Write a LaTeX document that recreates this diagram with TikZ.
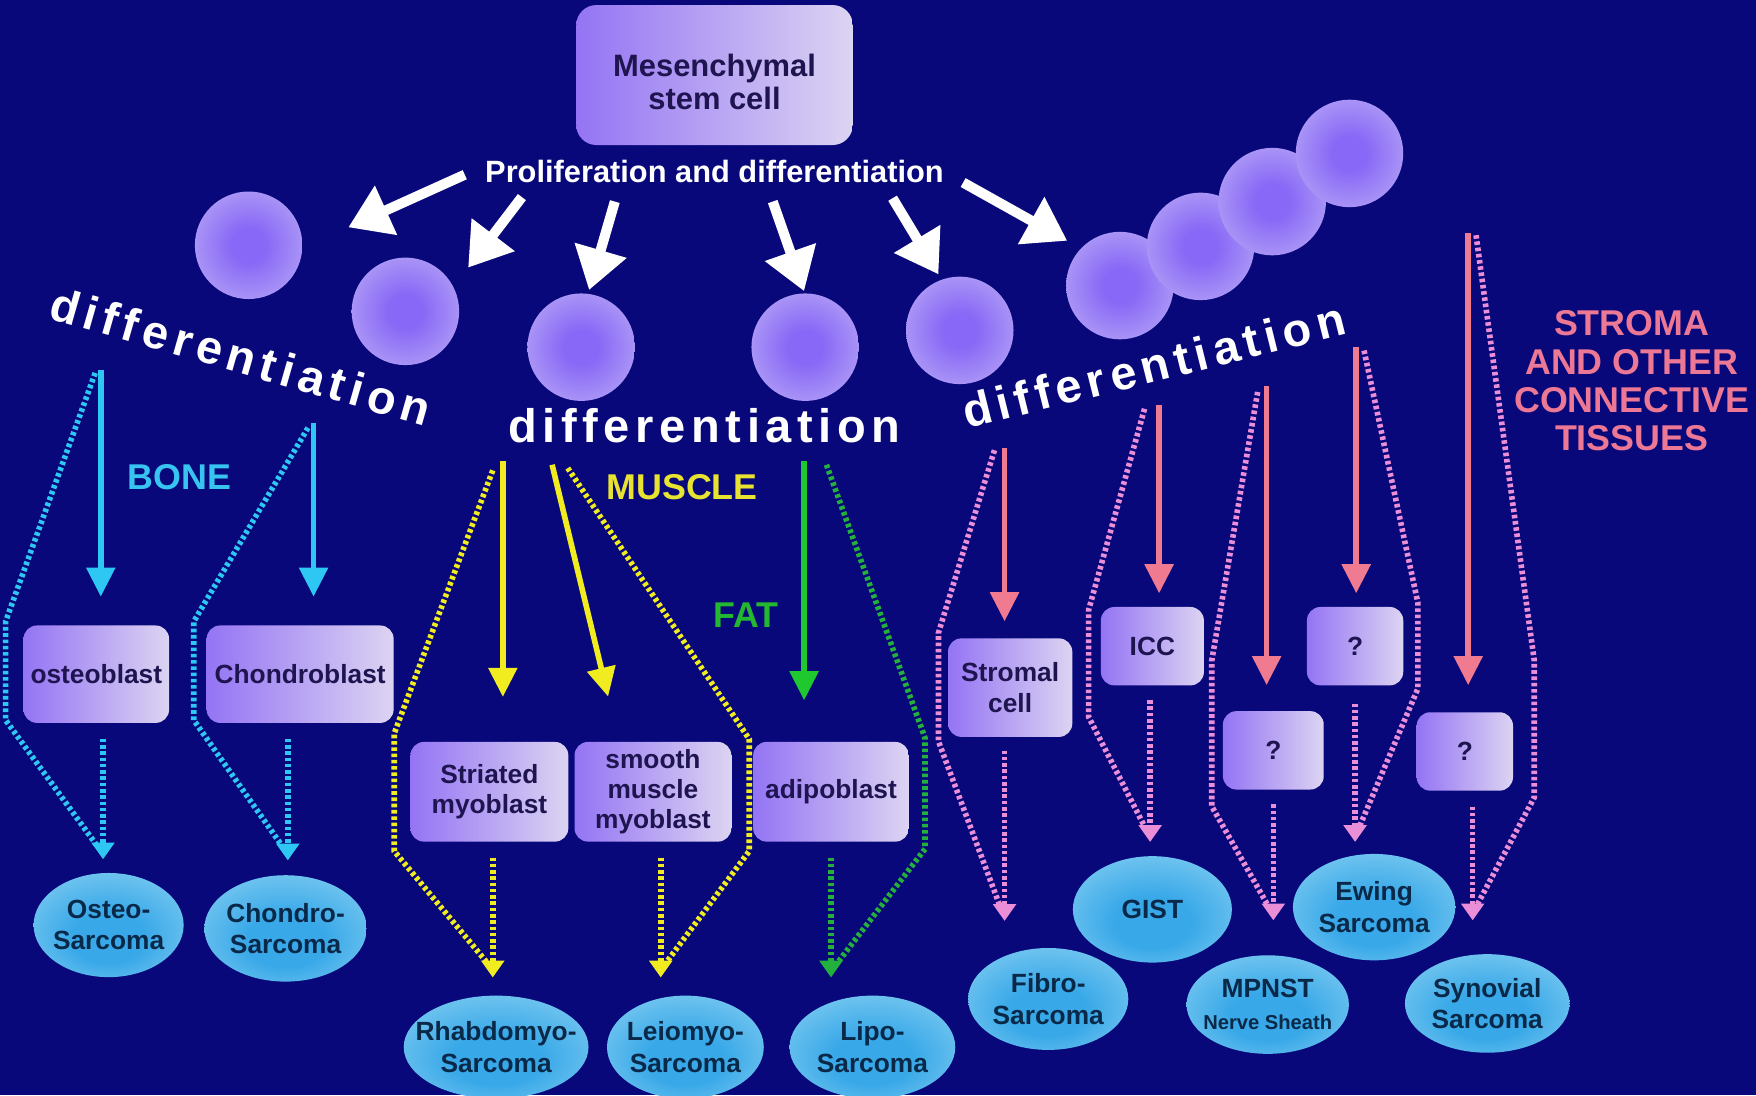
\documentclass[tikz,border=0pt]{standalone}
\usepackage{fontspec}
\setmainfont{Liberation Sans}
\newfontfamily\widefont{Liberation Sans}[LetterSpace=12]
\usetikzlibrary{arrows.meta,shapes.geometric,calc}
\definecolor{bg}{RGB}{8,8,122}
\definecolor{boxL}{RGB}{148,116,244}
\definecolor{boxR}{RGB}{220,212,242}
\definecolor{boxT}{RGB}{30,20,80}
\definecolor{cellin}{RGB}{136,104,246}
\definecolor{cellmid}{RGB}{178,160,246}
\definecolor{cellout}{RGB}{208,198,246}
\definecolor{cellrim}{RGB}{222,216,248}
\definecolor{ellin}{RGB}{56,168,232}
\definecolor{ellmid}{RGB}{120,200,240}
\definecolor{ellout}{RGB}{226,246,252}
\definecolor{ellT}{RGB}{10,40,72}
\definecolor{cyanc}{RGB}{46,198,242}
\definecolor{yel}{RGB}{240,236,32}
\definecolor{grn}{RGB}{32,200,48}
\definecolor{grnd}{RGB}{36,176,60}
\definecolor{pinks}{RGB}{240,122,144}
\definecolor{pinkd}{RGB}{234,142,216}
\definecolor{stromac}{RGB}{236,120,150}
\definecolor{musclec}{RGB}{232,226,48}
\definecolor{fatc}{RGB}{36,184,48}
\definecolor{bonec}{RGB}{56,196,240}
\pgfdeclareradialshading{cellshade}{\pgfpoint{0bp}{0bp}}{color(0bp)=(cellin); color(8bp)=(cellin); color(30bp)=(cellmid); color(42bp)=(cellout); color(50bp)=(cellrim)}
\pgfdeclareradialshading{ellshade}{\pgfpoint{0bp}{-8bp}}{color(0bp)=(ellin); color(12bp)=(ellin); color(32bp)=(ellmid); color(45bp)=(ellout); color(50bp)=(ellout)}
\newcommand\zw[1]{\makebox[0pt]{#1}}
\tikzset{
  stepbox/.style={rectangle, rounded corners=12pt, left color=boxL, right color=boxR, draw=none, text=boxT,
    font=\bfseries\fontsize{23.5}{27}\selectfont, align=center, inner sep=0pt},
  sarc/.style={ellipse, shade, shading=ellshade, text=ellT, font=\bfseries\fontsize{23.5}{28}\selectfont, align=center, inner sep=0pt},
  cell/.style={circle, shade, shading=cellshade, minimum size=96pt, inner sep=0pt},
  warrow/.style={draw=white, line width=9pt, -{Triangle[width=46pt,length=37pt]}},
  difftext/.style={text=white, font=\widefont\bfseries\fontsize{42}{44}\selectfont, inner sep=0pt},
  grouplabel/.style={font=\bfseries\fontsize{32}{34}\selectfont, inner sep=0pt, align=center},
  solidarr/.style={line width=5pt, -{Triangle[width=25pt,length=26pt]}},
  dotline/.style={line width=5pt, dash pattern=on 3.2pt off 2.4pt},
  dotarr/.style={line width=5pt, dash pattern=on 3.2pt off 2.4pt, -{Triangle[width=20pt,length=15pt]}}
}
\begin{document}
\begin{tikzpicture}[x=1pt,y=-1pt]
\useasboundingbox (0,0) rectangle (1568,978);
\fill[bg] (0,0) rectangle (1568,978);

% stem cell
\node[stepbox, rounded corners=18pt, minimum width=247pt, minimum height=125pt,
  font=\bfseries\fontsize{27.6}{29.5}\selectfont] (msc) at (638,67) {\rule{0pt}{32pt}Mesenchymal\\stem cell};
\node[text=white, font=\bfseries\fontsize{27.5}{30}\selectfont, inner sep=0pt] (prolif) at (638,153) {Proliferation and differentiation};

% cells
\node[cell] (c1) at (222,219) {};
\node[cell] (c2) at (362,278) {};
\node[cell] (c3) at (519,310) {};
\node[cell] (c4) at (719,310) {};
\node[cell] (c5) at (857,295) {};
\node[cell] (c6) at (1000,255) {};
\node[cell] (c7) at (1072,220) {};
\node[cell] (c8) at (1136,180) {};
\node[cell] (c9) at (1205,137) {};

% white arrows
\coordinate (w1s) at (415,156); \coordinate (w1e) at (311,203);
\coordinate (w2s) at (466,176); \coordinate (w2e) at (418,239);
\coordinate (w3s) at (549,180); \coordinate (w3e) at (526,259);
\coordinate (w4s) at (690,180); \coordinate (w4e) at (718,260);
\coordinate (w5s) at (797,177); \coordinate (w5e) at (838,245);
\coordinate (w6s) at (860,163); \coordinate (w6e) at (953,215);
\foreach \i in {1,...,6} \draw[warrow] (w\i s) -- (w\i e);

% differentiation labels
\node[difftext, rotate=-16] (dl) at (215,318) {differentiation};
\node[difftext] (dm) at (629,380) {differentiation};
\node[difftext, rotate=14] (dr) at (1030,326) {differentiation};

% group labels
\node[grouplabel, text=bonec] (bone) at (160,426) {BONE};
\node[grouplabel, text=musclec] (muscle) at (609,435) {MUSCLE};
\node[grouplabel, text=fatc] (fat) at (666,549) {FAT};
\node[grouplabel, text=stromac] (stroma) at (1457,340) {STROMA\\AND OTHER\\CONNECTIVE\\TISSUES};

% precursor boxes
\node[stepbox, minimum width=130pt, minimum height=87pt] (ob) at (86,602) {osteoblast};
\node[stepbox, minimum width=167pt, minimum height=87pt] (cb) at (268,602) {Chondroblast};
\node[stepbox, minimum width=141pt, minimum height=89pt] (st) at (437,707) {Striated\\myoblast};
\node[stepbox, minimum width=140pt, minimum height=89pt] (sm) at (583,707) {smooth\\muscle\\myoblast};
\node[stepbox, minimum width=139pt, minimum height=89pt] (ad) at (742,707) {adipoblast};
\node[stepbox, minimum width=111pt, minimum height=88pt] (sc) at (902,614) {Stromal\\cell};
\node[stepbox, minimum width=92pt, minimum height=70pt] (icc) at (1029,577) {ICC};
\node[stepbox, minimum width=90pt, minimum height=70pt] (q1) at (1137,670) {?};
\node[stepbox, minimum width=86pt, minimum height=70pt] (q2) at (1210,577) {?};
\node[stepbox, minimum width=86pt, minimum height=70pt] (q3) at (1308,671) {?};

% sarcomas
\node[sarc, minimum width=134pt, minimum height=93pt] (os) at (97,826) {\zw{Osteo-}\\\zw{Sarcoma}};
\node[sarc, minimum width=145pt, minimum height=95pt] (cs) at (255,829) {\zw{Chondro-}\\\zw{Sarcoma}};
\node[sarc, minimum width=165pt, minimum height=92pt] (rs) at (443,935) {\zw{Rhabdomyo-}\\\zw{Sarcoma}};
\node[sarc, minimum width=140pt, minimum height=92pt] (ls) at (612,935) {\zw{Leiomyo-}\\\zw{Sarcoma}};
\node[sarc, minimum width=148pt, minimum height=92pt] (lps) at (779,935) {\zw{Lipo-}\\\zw{Sarcoma}};
\node[sarc, minimum width=143pt, minimum height=91pt] (fs) at (936,892) {\zw{Fibro-}\\\zw{Sarcoma}};
\node[sarc, minimum width=142pt, minimum height=95pt] (gist) at (1029,812) {\zw{GIST}};
\node[sarc, minimum width=145pt, minimum height=88pt] (mp) at (1132,897) {\zw{MPNST}\\\zw{\fontsize{18}{20}\selectfont Nerve Sheath}};
\node[sarc, minimum width=145pt, minimum height=95pt] (ew) at (1227,810) {\zw{Ewing}\\\zw{Sarcoma}};
\node[sarc, minimum width=147pt, minimum height=88pt] (sy) at (1328,896) {\zw{Synovial}\\\zw{Sarcoma}};

% solid differentiation arrows
\coordinate (b1t) at (90,330);
\coordinate (b2t) at (280,378);
\coordinate (m1t) at (449,412);
\coordinate (m2t) at (493,415); \coordinate (m2e) at (543,622);
\coordinate (f1t) at (718,412);
\coordinate (p1t) at (897,400);
\coordinate (p2t) at (1035,362);
\coordinate (p3t) at (1131,345);
\coordinate (p4t) at (1211,310);
\coordinate (p5t) at (1311,208);
\draw[solidarr, cyanc, shorten >=25.5pt] (b1t) -- (b1t |- ob.north);
\draw[solidarr, cyanc, shorten >=25.5pt] (b2t) -- (b2t |- cb.north);
\draw[solidarr, yel, shorten >=40pt] (m1t) -- (m1t |- st.north);
\draw[solidarr, yel] (m2t) -- (m2e);
\draw[solidarr, grn, shorten >=37pt] (f1t) -- (f1t |- ad.north);
\draw[solidarr, pinks, shorten >=15pt] (p1t) -- (p1t |- sc.north);
\draw[solidarr, pinks, shorten >=12pt] (p2t) -- (p2t |- icc.north);
\draw[solidarr, pinks, shorten >=23pt] (p3t) -- (p3t |- q1.north);
\draw[solidarr, pinks, shorten >=12pt] (p4t) -- (p4t |- q2.north);
\draw[solidarr, pinks, shorten >=24pt] (p5t) -- (p5t |- q3.north);

% dotted envelopes
\draw[dotline, cyanc] (85,333) -- (5,555) -- (5,643) -- (88,757);
\draw[dotline, cyanc] (275,382) -- (173,555) -- (173,643) -- (253,757);
\draw[dotline, yel] (440,420) -- (352,655) -- (352,760) -- (437,862);
\draw[dotline, yel] (507,418) -- (669,660) -- (669,760) -- (593,862);
\draw[dotline, grnd] (738,415) -- (826,659) -- (826,758) -- (746,862);
\draw[dotline, pinkd] (888,402) -- (838,565) -- (838,662) -- (894,812);
\draw[dotline, pinkd] (1022,365) -- (972,545) -- (972,640) -- (1022,738);
\draw[dotline, pinkd] (1123,350) -- (1082,590) -- (1082,720) -- (1133,810);
\draw[dotline, pinkd] (1218,313) -- (1266,538) -- (1266,615) -- (1214,738);
\draw[dotline, pinkd] (1318,210) -- (1370,590) -- (1370,712) -- (1319,808);

% dotted arrows precursor -> sarcoma
\draw[dotarr, cyanc] ($(ob.south)+(6,14)$) -- ($(os.north)+(-5,-12)$);
\draw[dotarr, cyanc] ($(cb.south)+(-11,14)$) -- ($(cs.north)+(2,-13)$);
\draw[dotarr, yel] ($(st.south)+(3,14)$) -- ($(rs.north)+(-3,-16)$);
\draw[dotarr, yel] ($(sm.south)+(7,14)$) -- ($(ls.north)+(-22,-16)$);
\draw[dotarr, grnd] ($(ad.south)+(0,14)$) -- ($(lps.north)+(-37,-16)$);
\draw[dotarr, pinkd] ($(sc.south)+(-5,12)$) -- ($(fs.north)+(-39,-24)$);
\draw[dotarr, pinkd] ($(icc.south)+(-2,13)$) -- ($(gist.north)+(-2,-12.5)$);
\draw[dotarr, pinkd] ($(q1.south)+(0,13)$) -- ($(mp.north)+(5,-31)$);
\draw[dotarr, pinkd] ($(q2.south)+(0,16)$) -- ($(ew.north)+(-17,-10.5)$);
\draw[dotarr, pinkd] ($(q3.south)+(7,14)$) -- ($(sy.north)+(-13,-30)$);
\end{tikzpicture}
\end{document}
